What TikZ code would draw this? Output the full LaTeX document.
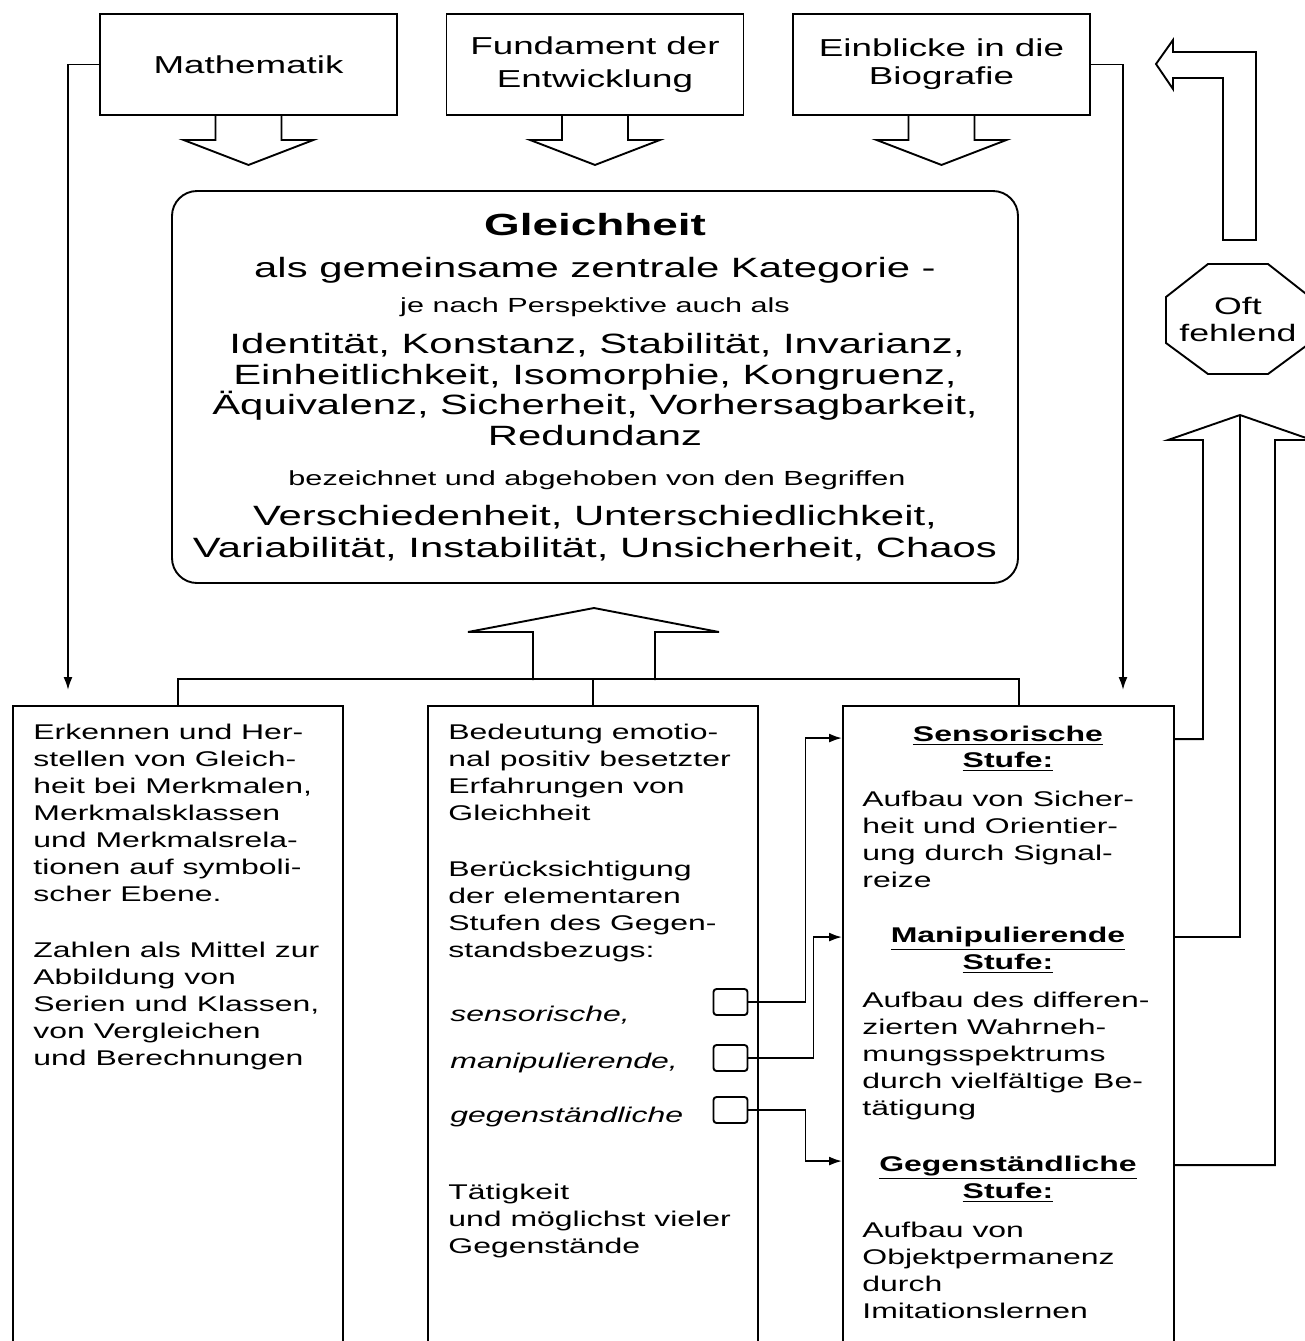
\documentclass[tikz,border=0pt]{standalone}
\usepackage{fontspec}
\setmainfont{Liberation Sans}[FakeStretch=1.5]
\usetikzlibrary{arrows.meta}
\newcommand\fsz[2]{\fontsize{#1}{#2}\selectfont}
\begin{document}
\begin{tikzpicture}[x=0.5pt,y=-0.5pt,
  ln/.style={line width=0.95pt, line join=miter},
  arr/.style={ln, -{Latex[length=6.5pt,width=4.5pt]}},
  box/.style={draw, ln, inner sep=0pt},
  topbox/.style={box, minimum width=148.5pt, minimum height=50.5pt, align=center},
  bigtxt/.style={font=\fsz{13.95}{15}, anchor=base, inner sep=0pt},
  smalltxt/.style={font=\fsz{10.2}{12}, anchor=base, inner sep=0pt},
  body/.style={font=\fsz{10.65}{13}, anchor=base west, inner sep=0pt},
  ibody/.style={font=\fsz{10.65}{13}\itshape, anchor=base west, inner sep=0pt},
  head/.style={font=\fsz{10.65}{13}\bfseries, anchor=base, inner sep=0pt},
  sq/.style={draw, ln, rounded corners=1.5pt, minimum width=17pt, minimum height=13pt, inner sep=0pt},
  lowbox/.style={box, minimum width=165pt, minimum height=350pt}
]
\useasboundingbox[fill=white] (0,0) rectangle (1305,1341);

% top boxes
\node[topbox, font=\fsz{12.25}{16}] (M) at (248.5,64.5) {Mathematik};
\node[topbox, font=\fsz{12.25}{16.5}] (F) at (595,64.5) {Fundament der\\Entwicklung};
\node[topbox, font=\fsz{12.25}{14}] (E) at (941.5,64.5) {Einblicke in die\\Biografie};
\foreach \n in {M,F,E}
  \draw[ln] ([xshift=-16.5pt]\n.south) -- ++(0,24) -- ++(-32,0) -- ++(65,25)
            -- ++(65,-25) -- ++(-32,0) -- ++(0,-24);

% central box
\node[box, rounded corners=12.5pt, minimum width=423pt, minimum height=196pt] (G) at (595,387) {};
\node[font=\fsz{15.3}{16}\bfseries, anchor=base, inner sep=0pt] (g1) at (595,235) {Gleichheit};
\node[bigtxt] (g2) at (595,277) {als gemeinsame zentrale Kategorie -};
\node[smalltxt] (g3) at (595,312) {je nach Perspektive auch als};
\node[bigtxt] (g4) at (597,353) {Identität, Konstanz, Stabilität, Invarianz,};
\node[bigtxt] (g5) at (595,384) {Einheitlichkeit, Isomorphie, Kongruenz,};
\node[bigtxt] (g6) at (595,414) {Äquivalenz, Sicherheit, Vorhersagbarkeit,};
\node[bigtxt] (g7) at (595,445) {Redundanz};
\node[smalltxt] (g8) at (597,485) {bezeichnet und abgehoben von den Begriffen};
\node[bigtxt] (g9) at (595,525) {Verschiedenheit, Unterschiedlichkeit,};
\node[bigtxt] (g10) at (595,557) {Variabilität, Instabilität, Unsicherheit, Chaos};

% lower boxes (open at the bottom edge)
\node[lowbox] (L) at (178,1056) {};
\node[lowbox] (C) at (593,1056) {};
\node[lowbox, minimum width=165.5pt] (R) at (1008.5,1056) {};

% tree and up arrow
\draw[ln] (L.north) -- ++(0,-26) -| (R.north -| G.east);
\draw[ln] (C.north) -- ++(0,-26);
\draw[ln] (533,680) -- (533,632) -- (468,632) -- (594,608) -- (719,632) -- (655,632) -- (655,680);

% side connectors
\coordinate (la) at (68,690);
\coordinate (ra) at (1123,690);
\draw[arr] (M.west) -| (la);
\draw[arr] (E.east) -| (ra);

% left text
\foreach \t/\y [count=\i] in {Erkennen und Her-/739, stellen von Gleich-/766, {heit bei Merkmalen,}/793,
  Merkmalsklassen/820, und Merkmalsrela-/847, tionen auf symboli-/874, scher Ebene./901,
  Zahlen als Mittel zur/957, Abbildung von/984, {Serien und Klassen,}/1011, von Vergleichen/1038,
  und Berechnungen/1065}
  \node[body, name=a\i] at (33,\y) {\t};

% middle text
\foreach \t/\y [count=\i] in {Bedeutung emotio-/739, nal positiv besetzter/766, Erfahrungen von/793,
  Gleichheit/820, Berücksichtigung/876, der elementaren/903, Stufen des Gegen-/930,
  standsbezugs:/957, Tätigkeit/1199, und möglichst vieler/1226, Gegenstände/1253}
  \node[body, name=b\i] at (448,\y) {\t};
\node[ibody] (i1) at (450,1021) {sensorische,};
\node[ibody] (i2) at (450,1068) {manipulierende,};
\node[ibody] (i3) at (450,1122) {gegenständliche};

\node[sq] (s1) at (730.5,1002) {};
\node[sq] (s2) at (730.5,1058) {};
\node[sq] (s3) at (730.5,1110) {};
\draw[arr] (s1.east) -- ++(57,0) |- ([yshift=-16.5pt]R.north west);
\draw[arr] (s2.east) -- ++(65,0) |- ([yshift=-116pt]R.north west);
\draw[arr] (s3.east) -- ++(57,0) |- ([yshift=-228pt]R.north west);

% right text
\node[head] (h1) at (1008,741) {\underline{Sensorische}};
\node[head] (h2) at (1008,767) {\underline{Stufe:}};
\node[head] (h3) at (1008,942) {\underline{Manipulierende}};
\node[head] (h4) at (1008,969) {\underline{Stufe:}};
\node[head] (h5) at (1008,1171) {\underline{Gegenständliche}};
\node[head] (h6) at (1008,1198) {\underline{Stufe:}};
\foreach \t/\y [count=\i] in {Aufbau von Sicher-/806, heit und Orientier-/833, ung durch Signal-/860, reize/887,
  Aufbau des differen-/1007, zierten Wahrneh-/1034, mungsspektrums/1061, durch vielfältige Be-/1088,
  tätigung/1115, Aufbau von/1237, Objektpermanenz/1264, durch/1291, Imitationslernen/1318}
  \node[body, name=c\i] at (862,\y) {\t};

% right side big arrow made of the connectors
\draw[ln] ([yshift=-17pt]R.north east) -| (1203,440) -- (1168,440) -- (1240,415) -- (1312,440)
          -- (1275,440) |- ([yshift=-230pt]R.north east);
\draw[ln] (1240,415) |- ([yshift=-116pt]R.north east);

% octagon
\node[font=\fsz{11.9}{13.5}, align=center, inner sep=0pt] (O) at (1238,319) {Oft\\fehlend};
\draw[ln] (1208,264) -- (1268,264) -- (1310,297) -- (1310,343) -- (1268,374) -- (1208,374)
          -- (1166,343) -- (1166,297) -- cycle;

% bent return arrow
\draw[ln] (1256,240) -- (1256,52) -- (1173,52) -- (1173,40) -- (1156,64) -- (1173,89)
          -- (1173,78) -- (1223,78) -- (1223,240) -- cycle;
\end{tikzpicture}
\end{document}
